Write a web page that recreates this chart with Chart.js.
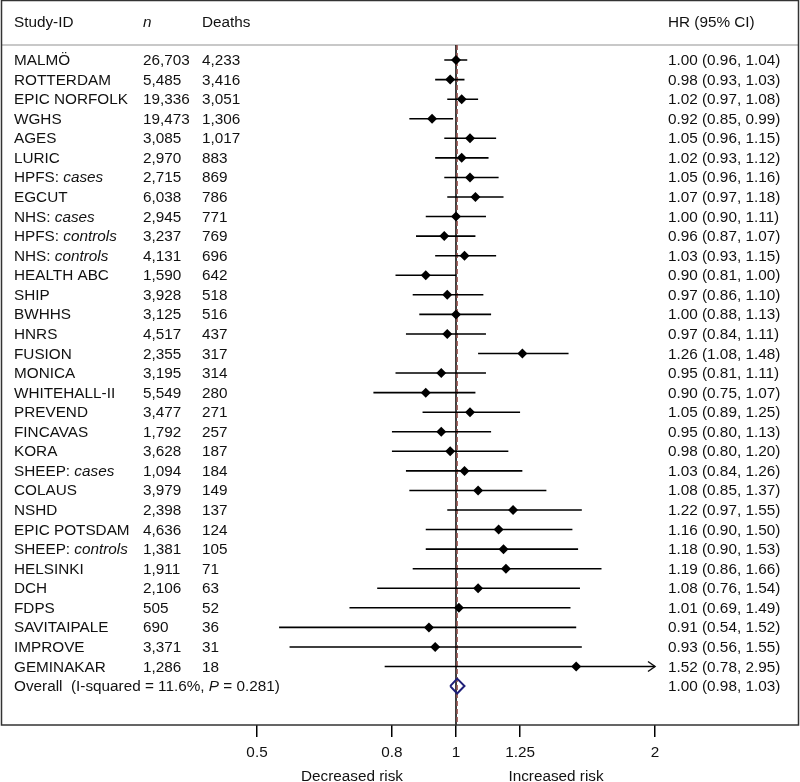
<!DOCTYPE html>
<html>
<head>
<meta charset="utf-8">
<script src="https://cdn.jsdelivr.net/npm/chart.js@4.4.1/dist/chart.umd.min.js"></script>
<style>
  body { margin: 0; background: #fff; }
  #wrap { width: 800px; height: 782px; position: relative; }
</style>
</head>
<body>
<div id="wrap"><canvas id="chart"></canvas></div>
<script>
// data
const studies = ['MALMÖ', 'ROTTERDAM', 'EPIC NORFOLK', 'WGHS', 'AGES', 'LURIC', 'HPFS: cases', 'EGCUT',
  'NHS: cases', 'HPFS: controls', 'NHS: controls', 'HEALTH ABC', 'SHIP', 'BWHHS', 'HNRS', 'FUSION',
  'MONICA', 'WHITEHALL-II', 'PREVEND', 'FINCAVAS', 'KORA', 'SHEEP: cases', 'COLAUS', 'NSHD',
  'EPIC POTSDAM', 'SHEEP: controls', 'HELSINKI', 'DCH', 'FDPS', 'SAVITAIPALE', 'IMPROVE', 'GEMINAKAR'];
const nValues = [26703, 5485, 19336, 19473, 3085, 2970, 2715, 6038, 2945, 3237, 4131, 1590, 3928, 3125, 4517, 2355,
  3195, 5549, 3477, 1792, 3628, 1094, 3979, 2398, 4636, 1381, 1911, 2106, 505, 690, 3371, 1286];
const deaths = [4233, 3416, 3051, 1306, 1017, 883, 869, 786, 771, 769, 696, 642, 518, 516, 437, 317,
  314, 280, 271, 257, 187, 184, 149, 137, 124, 105, 71, 63, 52, 36, 31, 18];
const hr = [1.00, 0.98, 1.02, 0.92, 1.05, 1.02, 1.05, 1.07, 1.00, 0.96, 1.03, 0.90, 0.97, 1.00, 0.97, 1.26,
  0.95, 0.90, 1.05, 0.95, 0.98, 1.03, 1.08, 1.22, 1.16, 1.18, 1.19, 1.08, 1.01, 0.91, 0.93, 1.52];
const lower = [0.96, 0.93, 0.97, 0.85, 0.96, 0.93, 0.96, 0.97, 0.90, 0.87, 0.93, 0.81, 0.86, 0.88, 0.84, 1.08,
  0.81, 0.75, 0.89, 0.80, 0.80, 0.84, 0.85, 0.97, 0.90, 0.90, 0.86, 0.76, 0.69, 0.54, 0.56, 0.78];
const upper = [1.04, 1.03, 1.08, 0.99, 1.15, 1.12, 1.16, 1.18, 1.11, 1.07, 1.15, 1.00, 1.10, 1.13, 1.11, 1.48,
  1.11, 1.07, 1.25, 1.13, 1.20, 1.26, 1.37, 1.55, 1.50, 1.53, 1.66, 1.54, 1.49, 1.52, 1.55, 2.95];
const overall = [1.004, 0.98, 1.03]; // HR, lower, upper
const heterogeneity = ['11.6', '0.281']; // I-squared %, P
const tickValues = [0.5, 0.8, 1, 1.25, 2];
const tickLabels = ['0.5', '0.8', '1', '1.25', '2'];
const sideLabels = ['Decreased risk', 'Increased risk'];
const headers = ['Study-ID', 'n', 'Deaths', 'HR (95% CI)'];

const FONT = '"Liberation Sans", Arial, sans-serif';
const FS = 15.3;
Chart.defaults.font.family = FONT;
Chart.defaults.font.size = FS;
Chart.defaults.color = '#111';

const overallRow = studies.length;
const Y_MIN = -3.07, Y_MAX = 33.99, HEAD_LINE = -0.77;

// CI segments, separated by gaps
const ciData = [];
studies.forEach((s, i) => {
  ciData.push({ x: lower[i], y: i }, { x: upper[i], y: i }, { x: null, y: null });
});

const diamond = [
  { x: overall[1], y: overallRow }, { x: overall[0], y: overallRow - 0.38 },
  { x: overall[2], y: overallRow }, { x: overall[0], y: overallRow + 0.38 },
  { x: overall[1], y: overallRow }
];

const fmt = v => v.toFixed(2);
const thousands = v => v.toLocaleString('en-US');

// text columns, box and arrows
const tablePlugin = {
  id: 'table',
  beforeDatasetsDraw(chart) {
    const ctx = chart.ctx;
    const y = chart.scales.y;
    ctx.save();
    ctx.strokeStyle = '#c8c8c8';
    ctx.lineWidth = 2;
    ctx.beginPath();
    ctx.moveTo(2, y.getPixelForValue(HEAD_LINE));
    ctx.lineTo(798, y.getPixelForValue(HEAD_LINE));
    ctx.stroke();
    ctx.restore();
  },
  afterDraw(chart) {
    const ctx = chart.ctx;
    const xs = chart.scales.x, ys = chart.scales.y;
    ctx.save();
    // frame
    ctx.strokeStyle = '#333';
    ctx.lineWidth = 1.5;
    ctx.strokeRect(1.5, 0.5, 797, chart.chartArea.bottom - 0.5);

    ctx.fillStyle = '#111';
    ctx.textBaseline = 'alphabetic';
    const normal = FS + 'px ' + FONT, italic = 'italic ' + FS + 'px ' + FONT;
    const cols = [14, 143, 202, 668];

    // headers
    const hy = 27;
    headers.forEach((h, k) => {
      ctx.font = k === 1 ? italic : normal;
      ctx.fillText(h, cols[k], hy);
    });

    // study rows
    studies.forEach((s, i) => {
      const py = ys.getPixelForValue(i) + 5;
      const parts = s.split(': ');
      ctx.font = normal;
      if (parts.length > 1) {
        const pre = parts[0] + ': ';
        ctx.fillText(pre, cols[0], py);
        const w = ctx.measureText(pre).width;
        ctx.font = italic;
        ctx.fillText(parts[1], cols[0] + w, py);
        ctx.font = normal;
      } else {
        ctx.fillText(s, cols[0], py);
      }
      ctx.fillText(thousands(nValues[i]), cols[1], py);
      ctx.fillText(thousands(deaths[i]), cols[2], py);
      ctx.fillText(`${fmt(hr[i])} (${fmt(lower[i])}, ${fmt(upper[i])})`, cols[3], py);
    });

    // overall row
    const oy = ys.getPixelForValue(overallRow) + 5;
    let x = cols[0];
    const seg = [[`Overall  (I-squared = ${heterogeneity[0]}%, `, normal], ['P', italic], [` = ${heterogeneity[1]})`, normal]];
    seg.forEach(([t, f]) => {
      ctx.font = f;
      ctx.fillText(t, x, oy);
      x += ctx.measureText(t).width;
    });
    ctx.font = normal;
    ctx.fillText(`${fmt(overall[0])} (${fmt(overall[1])}, ${fmt(overall[2])})`, cols[3], oy);

    // arrows for truncated intervals
    ctx.strokeStyle = '#111';
    ctx.lineWidth = 1.5;
    upper.forEach((u, i) => {
      if (u > xs.max) {
        const px = xs.getPixelForValue(xs.max), py = ys.getPixelForValue(i);
        ctx.beginPath();
        ctx.moveTo(px - 7, py - 5);
        ctx.lineTo(px, py);
        ctx.lineTo(px - 7, py + 5);
        ctx.stroke();
      }
    });

    // side labels under axis
    ctx.font = normal;
    ctx.textAlign = 'center';
    ctx.fillText(sideLabels[0], 352, 781);
    ctx.fillText(sideLabels[1], 556, 781);
    ctx.restore();
  }
};

new Chart(document.getElementById('chart'), {
  type: 'scatter',
  data: {
    datasets: [
      {
        label: 'Overall',
        data: diamond,
        showLine: true,
        borderColor: '#1f1f78',
        borderWidth: 2,
        pointRadius: 0,
        tension: 0,
        order: 0
      },
      {
        label: 'HR',
        data: hr.map((v, i) => ({ x: v, y: i })),
        pointStyle: 'rectRot',
        pointRadius: 5,
        backgroundColor: '#000',
        borderColor: '#000',
        borderWidth: 0,
        order: 1
      },
      {
        label: '95% CI',
        data: ciData,
        showLine: true,
        spanGaps: false,
        borderColor: '#000',
        borderWidth: 1.6,
        pointRadius: 0,
        order: 2
      },
      {
        label: 'Overall line',
        data: [{ x: overall[0], y: HEAD_LINE }, { x: overall[0], y: Y_MAX }],
        showLine: true,
        borderColor: '#a05a55',
        borderWidth: 1.5,
        borderDash: [5, 3],
        pointRadius: 0,
        order: 3
      },
      {
        label: 'No effect',
        data: [{ x: 1, y: HEAD_LINE }, { x: 1, y: Y_MAX }],
        showLine: true,
        borderColor: '#000',
        borderWidth: 1.5,
        pointRadius: 0,
        order: 4
      }
    ]
  },
  options: {
    responsive: true,
    maintainAspectRatio: false,
    animation: false,
    layout: { autoPadding: false, padding: { left: 257, right: 145, top: 0, bottom: 0 } },
    plugins: { legend: { display: false }, tooltip: { enabled: false } },
    scales: {
      x: {
        type: 'logarithmic',
        min: 0.5,
        max: 2,
        afterBuildTicks: s => { s.ticks = tickValues.map(v => ({ value: v })); },
        afterFit: s => { s.height = 57; },
        border: { display: false },
        grid: { drawOnChartArea: false, drawTicks: true, tickLength: 12, color: '#000', lineWidth: 1.5 },
        ticks: {
          autoSkip: false,
          maxRotation: 0,
          padding: 7,
          color: '#111',
          font: { size: FS },
          callback: (v, i) => tickLabels[i]
        }
      },
      y: {
        type: 'linear',
        min: Y_MIN,
        max: Y_MAX,
        reverse: true,
        display: false
      }
    }
  },
  plugins: [tablePlugin]
});
</script>
</body>
</html>
